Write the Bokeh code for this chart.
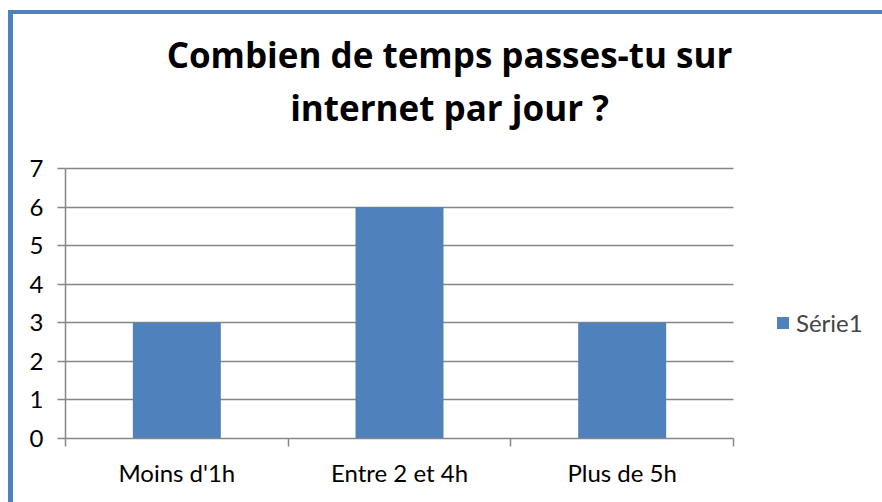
from bokeh.plotting import figure
from bokeh.models import (ColumnDataSource, Range1d, FixedTicker, Legend, LegendItem,
                          Label, LinearAxis, Grid)
from bokeh.embed import file_html
from bokeh.resources import INLINE

# ---- data ----
categories = ["Moins d'1h", "Entre 2 et 4h", "Plus de 5h"]
values = [3, 6, 3]
series_name = "Série1"
y_ticks = [0, 1, 2, 3, 4, 5, 6, 7]
title_lines = ["Combien de temps passes-tu sur", "internet par jour ?"]

FONT = "Lato"
TFONT = "Open Sans"
BAR = "#4F81BD"
GRID = "#868686"

n = len(categories)
ymax = max(y_ticks)
xpos = [i + 0.5 for i in range(n)]
src = ColumnDataSource(dict(x=xpos, top=values, cat=categories))

# The frame reaches the top and right edges of the canvas so that the title
# and legend (annotations) are not clipped; axes and grid are bounded.
PLOT_W, PLOT_H = 668, 270          # pixel size of the chart area
FRAME_W, FRAME_H = 817, 424        # pixel size of the whole frame
p = figure(width=869, height=488, output_backend="svg", toolbar_location=None,
           x_range=Range1d(0, n * FRAME_W / PLOT_W),
           y_range=Range1d(0, ymax * FRAME_H / PLOT_H),
           x_axis_location=None, y_axis_location=None, title=None)
# blue chart-area frame: only its left and top edges are visible
p.styles = {"margin-left": "13px", "margin-top": "14px",
            "box-shadow": "-5px -4px 0 0 #4F81BD, 0 -4px 0 0 #4F81BD, -5px 0 0 0 #4F81BD"}
p.min_border_left = 52
p.min_border_right = 0
p.min_border_top = 0
p.min_border_bottom = 64
p.outline_line_color = None
p.background_fill_color = "white"
p.border_fill_color = "white"

# y axis
yax = LinearAxis(ticker=FixedTicker(ticks=y_ticks), bounds=(0, ymax))
yax.axis_line_color = GRID
yax.axis_line_width = 1.5
yax.major_tick_line_color = GRID
yax.major_tick_line_width = 1.5
yax.major_tick_out = 8
yax.major_tick_in = 0
yax.minor_tick_line_color = None
yax.major_label_standoff = 14
yax.major_label_text_font = FONT
yax.major_label_text_font_size = "24px"
yax.major_label_text_color = "black"
p.add_layout(yax, "left")

# x axis: labels at category centres, ticks at category boundaries (minor ticks)
xax = LinearAxis(ticker=FixedTicker(ticks=xpos, minor_ticks=list(range(n + 1))),
                 bounds=(0, n))
xax.major_label_overrides = {x: c for x, c in zip(xpos, categories)}
xax.axis_line_color = GRID
xax.axis_line_width = 1.5
xax.major_tick_line_color = None
xax.major_tick_out = 0
xax.major_tick_in = 0
xax.minor_tick_line_color = GRID
xax.minor_tick_line_width = 1.5
xax.minor_tick_out = 8
xax.minor_tick_in = 0
xax.major_label_standoff = 11
xax.major_label_text_font = FONT
xax.major_label_text_font_size = "24px"
xax.major_label_text_color = "black"
p.add_layout(xax, "below")

p.xgrid.grid_line_color = None
p.ygrid.grid_line_color = None
if "cross_bounds" in Grid.properties():
    g = Grid(dimension=1, ticker=FixedTicker(ticks=y_ticks), bounds=(0, ymax),
             cross_bounds=(0, n), grid_line_color=GRID, grid_line_width=1.5)
    p.add_layout(g)
else:
    p.segment(x0=0, x1=n, y0=y_ticks, y1=y_ticks, line_color=GRID, line_width=1.5)

r = p.vbar(x="x", top="top", width=0.395, bottom=0, source=src,
           fill_color=BAR, line_color=None)

legend = Legend(items=[LegendItem(label=series_name, renderers=[r])],
                location=(710, 101), orientation="vertical")
legend.glyph_width = 15
legend.glyph_height = 15
legend.label_text_font = FONT
legend.label_text_font_size = "24px"
legend.label_standoff = 6
legend.padding = 0
legend.margin = 0
legend.border_line_color = None
legend.background_fill_alpha = 0
p.add_layout(legend, "center")

# title (two lines), positioned in screen pixels relative to the frame
for t, ys in zip(title_lines, [384, 331]):
    p.add_layout(Label(x=384, y=ys, x_units="screen", y_units="screen",
                       text=t, text_align="center", text_baseline="alphabetic",
                       text_font=TFONT, text_font_style="bold",
                       text_font_size="35px", text_color="black"))

open("out.html", "w").write(file_html(p, INLINE))
